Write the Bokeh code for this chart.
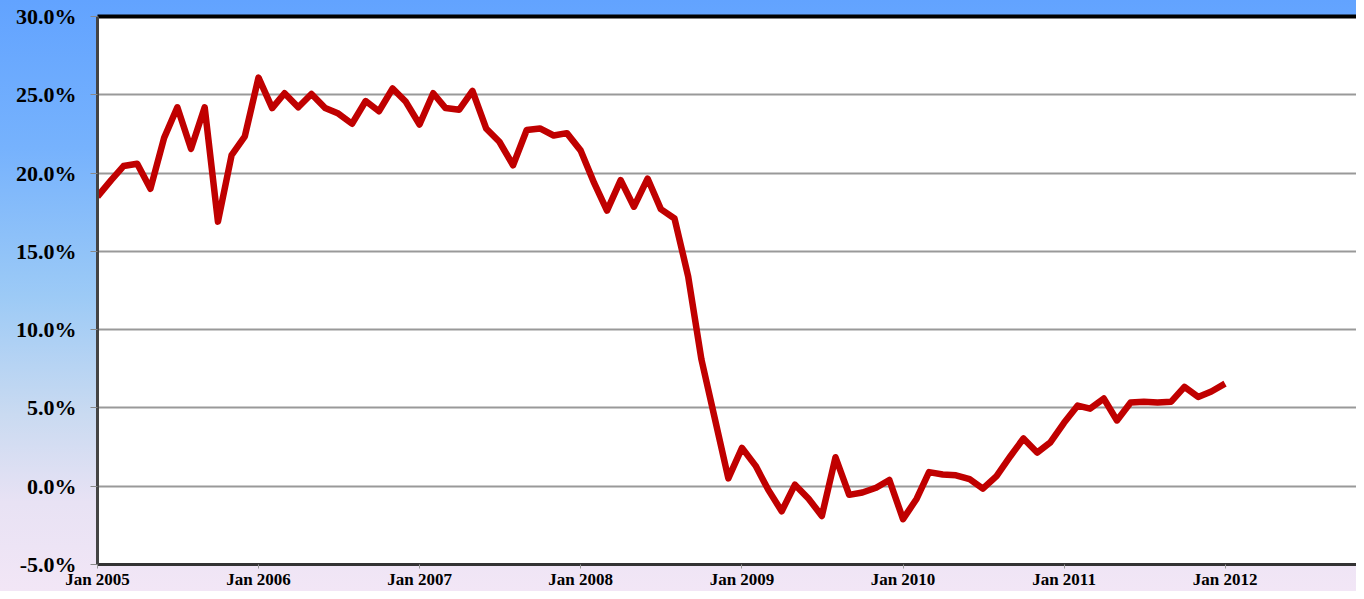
from datetime import datetime, timedelta
from bokeh.plotting import figure
from bokeh.models import (LinearAxis, FixedTicker, DatetimeTickFormatter, Range1d,
                          NumeralTickFormatter, ColumnDataSource)
from bokeh.embed import file_html
from bokeh.resources import INLINE

# Monthly growth rate, Jan 2005 .. Jan 2012 (percent)
months = [datetime(2005 + i // 12, i % 12 + 1, 1) for i in range(85)]
values = [18.5, 19.55, 20.45, 20.6, 19.0, 22.25, 24.2, 21.55, 24.2, 16.9, 21.15, 22.35,
          26.1, 24.15, 25.1, 24.2, 25.05, 24.15, 23.8, 23.15, 24.6, 23.95, 25.4, 24.55,
          23.1, 25.1, 24.15, 24.05, 25.25, 22.85, 22.0, 20.5, 22.75, 22.85, 22.4, 22.55,
          21.45, 19.35, 17.6, 19.55, 17.85, 19.65, 17.7, 17.1, 13.4, 8.1, 4.25, 0.5,
          2.45, 1.3, -0.2, -1.6, 0.1, -0.8, -1.9, 1.85, -0.55, -0.4, -0.1, 0.4,
          -2.1, -0.8, 0.9, 0.75, 0.7, 0.45, -0.15, 0.65, 1.9, 3.05, 2.15, 2.8,
          4.05, 5.15, 4.95, 5.6, 4.2, 5.35, 5.4, 5.35, 5.4, 6.35, 5.7, 6.05,
          6.55]
tick_years = [2005, 2006, 2007, 2008, 2009, 2010, 2011, 2012]
y_ticks = [-5, 0, 5, 10, 15, 20, 25, 30]

src = ColumnDataSource(dict(x=months, y=[v / 100 for v in values]))

x_start = datetime(2005, 1, 1)
x_end = x_start + timedelta(days=2854)

p = figure(width=1356, height=591, x_axis_type="datetime",
           x_range=Range1d(x_start, x_end), y_range=Range1d(-0.05, 0.30),
           output_backend="svg", toolbar_location=None,
           min_border_left=97, min_border_right=0, min_border_top=16, min_border_bottom=24)

p.styles = {"background": "linear-gradient(to bottom, #62a3ff 0%, #76b2fd 25%, #9ccaf6 50%, #c9daf1 70%, #e8e2f4 85%, #f2e6f6 100%)"}
p.border_fill_alpha = 0
p.background_fill_color = "white"
p.outline_line_color = None

p.line("x", "y", source=src, line_color="#C00000", line_width=6.5, line_join="round")

# y axis
ya = p.yaxis[0]
ya.ticker = FixedTicker(ticks=[t / 100 for t in y_ticks])
ya.formatter = NumeralTickFormatter(format="0.0%")
ya.major_label_text_font = "Liberation Serif"
ya.major_label_text_font_style = "bold"
ya.major_label_text_font_size = "22px"
ya.major_label_text_color = "black"
ya.axis_line_color = "#444444"
ya.axis_line_width = 3
ya.major_tick_line_color = "#888888"
ya.major_tick_out = 7
ya.major_tick_in = 0
ya.minor_tick_line_color = None
ya.major_label_standoff = 14

# x axis
xa = p.xaxis[0]
xa.ticker = FixedTicker(ticks=[datetime(y, 1, 1).timestamp() * 1000 for y in tick_years])
xa.formatter = DatetimeTickFormatter(years="%b %Y", months="%b %Y", days="%b %Y")
xa.major_label_text_font = "Liberation Serif"
xa.major_label_text_font_style = "bold"
xa.major_label_text_font_size = "17px"
xa.major_label_text_color = "black"
xa.axis_line_color = "#333333"
xa.axis_line_width = 3
xa.major_tick_line_color = "#999999"
xa.major_tick_out = 4
xa.major_tick_in = 0
xa.minor_tick_line_color = None
xa.major_label_standoff = 1

# top border
top = LinearAxis(ticker=FixedTicker(ticks=[]), axis_line_color="black", axis_line_width=4,
                 major_tick_line_color=None, minor_tick_line_color=None,
                 major_label_text_font_size="0px")
p.add_layout(top, "above")

p.xgrid.grid_line_color = None
p.ygrid.ticker = FixedTicker(ticks=[t / 100 for t in y_ticks])
p.ygrid.grid_line_color = "#999999"
p.ygrid.grid_line_width = 2

open("out.html", "w").write(file_html(p, INLINE))
